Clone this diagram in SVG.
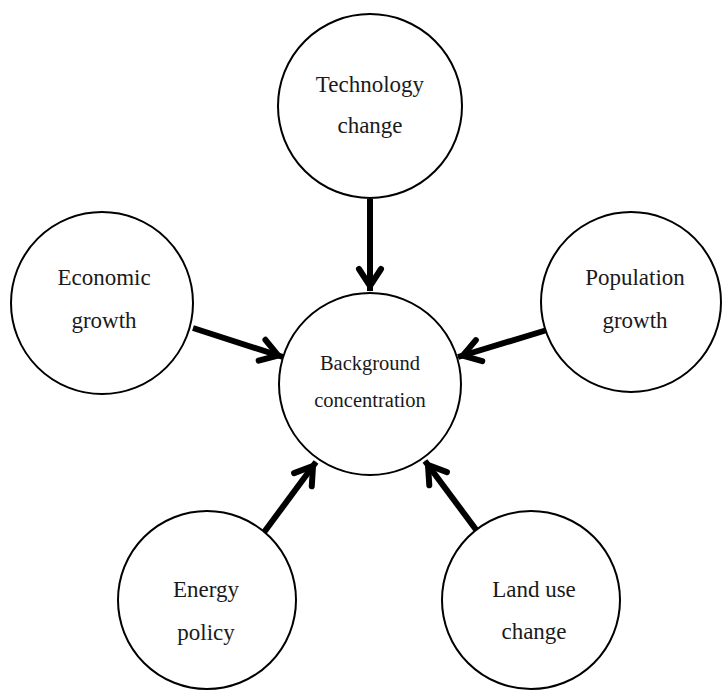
<svg xmlns="http://www.w3.org/2000/svg" width="722" height="700" viewBox="0 0 722 700">
  <style>
    .node { fill: #ffffff; stroke: #000000; stroke-width: 2; }
    .label { font-family: "Liberation Serif", "Times New Roman", serif; font-size: 23px; fill: #1a1a1a; text-anchor: middle; }
    .label.small { font-size: 20.5px; }
    .link { stroke: #000000; stroke-width: 6; fill: none; marker-end: url(#chevron); }
  </style>
  <defs>
    <marker id="chevron" markerUnits="userSpaceOnUse" orient="auto" markerWidth="40" markerHeight="40" refX="0" refY="0" viewBox="-30 -20 40 40" overflow="visible">
      <path d="M-22,-11 L-5,0 L-22,11" fill="none" stroke="#000000" stroke-width="6" stroke-linecap="round" stroke-linejoin="miter" stroke-miterlimit="10"/>
    </marker>
  </defs>
  <rect width="722" height="700" fill="#ffffff"/>

  <g id="connectors">
    <path class="link" d="M370,199 L370,291"/>
    <path class="link" d="M193,328 L283,357"/>
    <path class="link" d="M547,330 L458,357"/>
    <path class="link" d="M262,535 L316,462"/>
    <path class="link" d="M480,535 L425,461"/>
  </g>

  <g id="technology-change">
    <circle class="node" cx="370" cy="106" r="92"/>
    <text class="label" x="370" y="92">Technology</text>
    <text class="label" x="370" y="133">change</text>
  </g>

  <g id="economic-growth">
    <circle class="node" cx="102" cy="303" r="91"/>
    <text class="label" x="104" y="285">Economic</text>
    <text class="label" x="104" y="328">growth</text>
  </g>

  <g id="population-growth">
    <circle class="node" cx="631" cy="302" r="90"/>
    <text class="label" x="635" y="285">Population</text>
    <text class="label" x="635" y="328">growth</text>
  </g>

  <g id="background-concentration">
    <circle class="node" cx="370" cy="384" r="91"/>
    <text class="label small" x="370" y="370">Background</text>
    <text class="label small" x="370" y="407">concentration</text>
  </g>

  <g id="energy-policy">
    <circle class="node" cx="207" cy="600" r="89"/>
    <text class="label" x="206" y="597">Energy</text>
    <text class="label" x="206" y="640">policy</text>
  </g>

  <g id="land-use-change">
    <circle class="node" cx="531" cy="600" r="89"/>
    <text class="label" x="534" y="597">Land use</text>
    <text class="label" x="534" y="639">change</text>
  </g>
</svg>
